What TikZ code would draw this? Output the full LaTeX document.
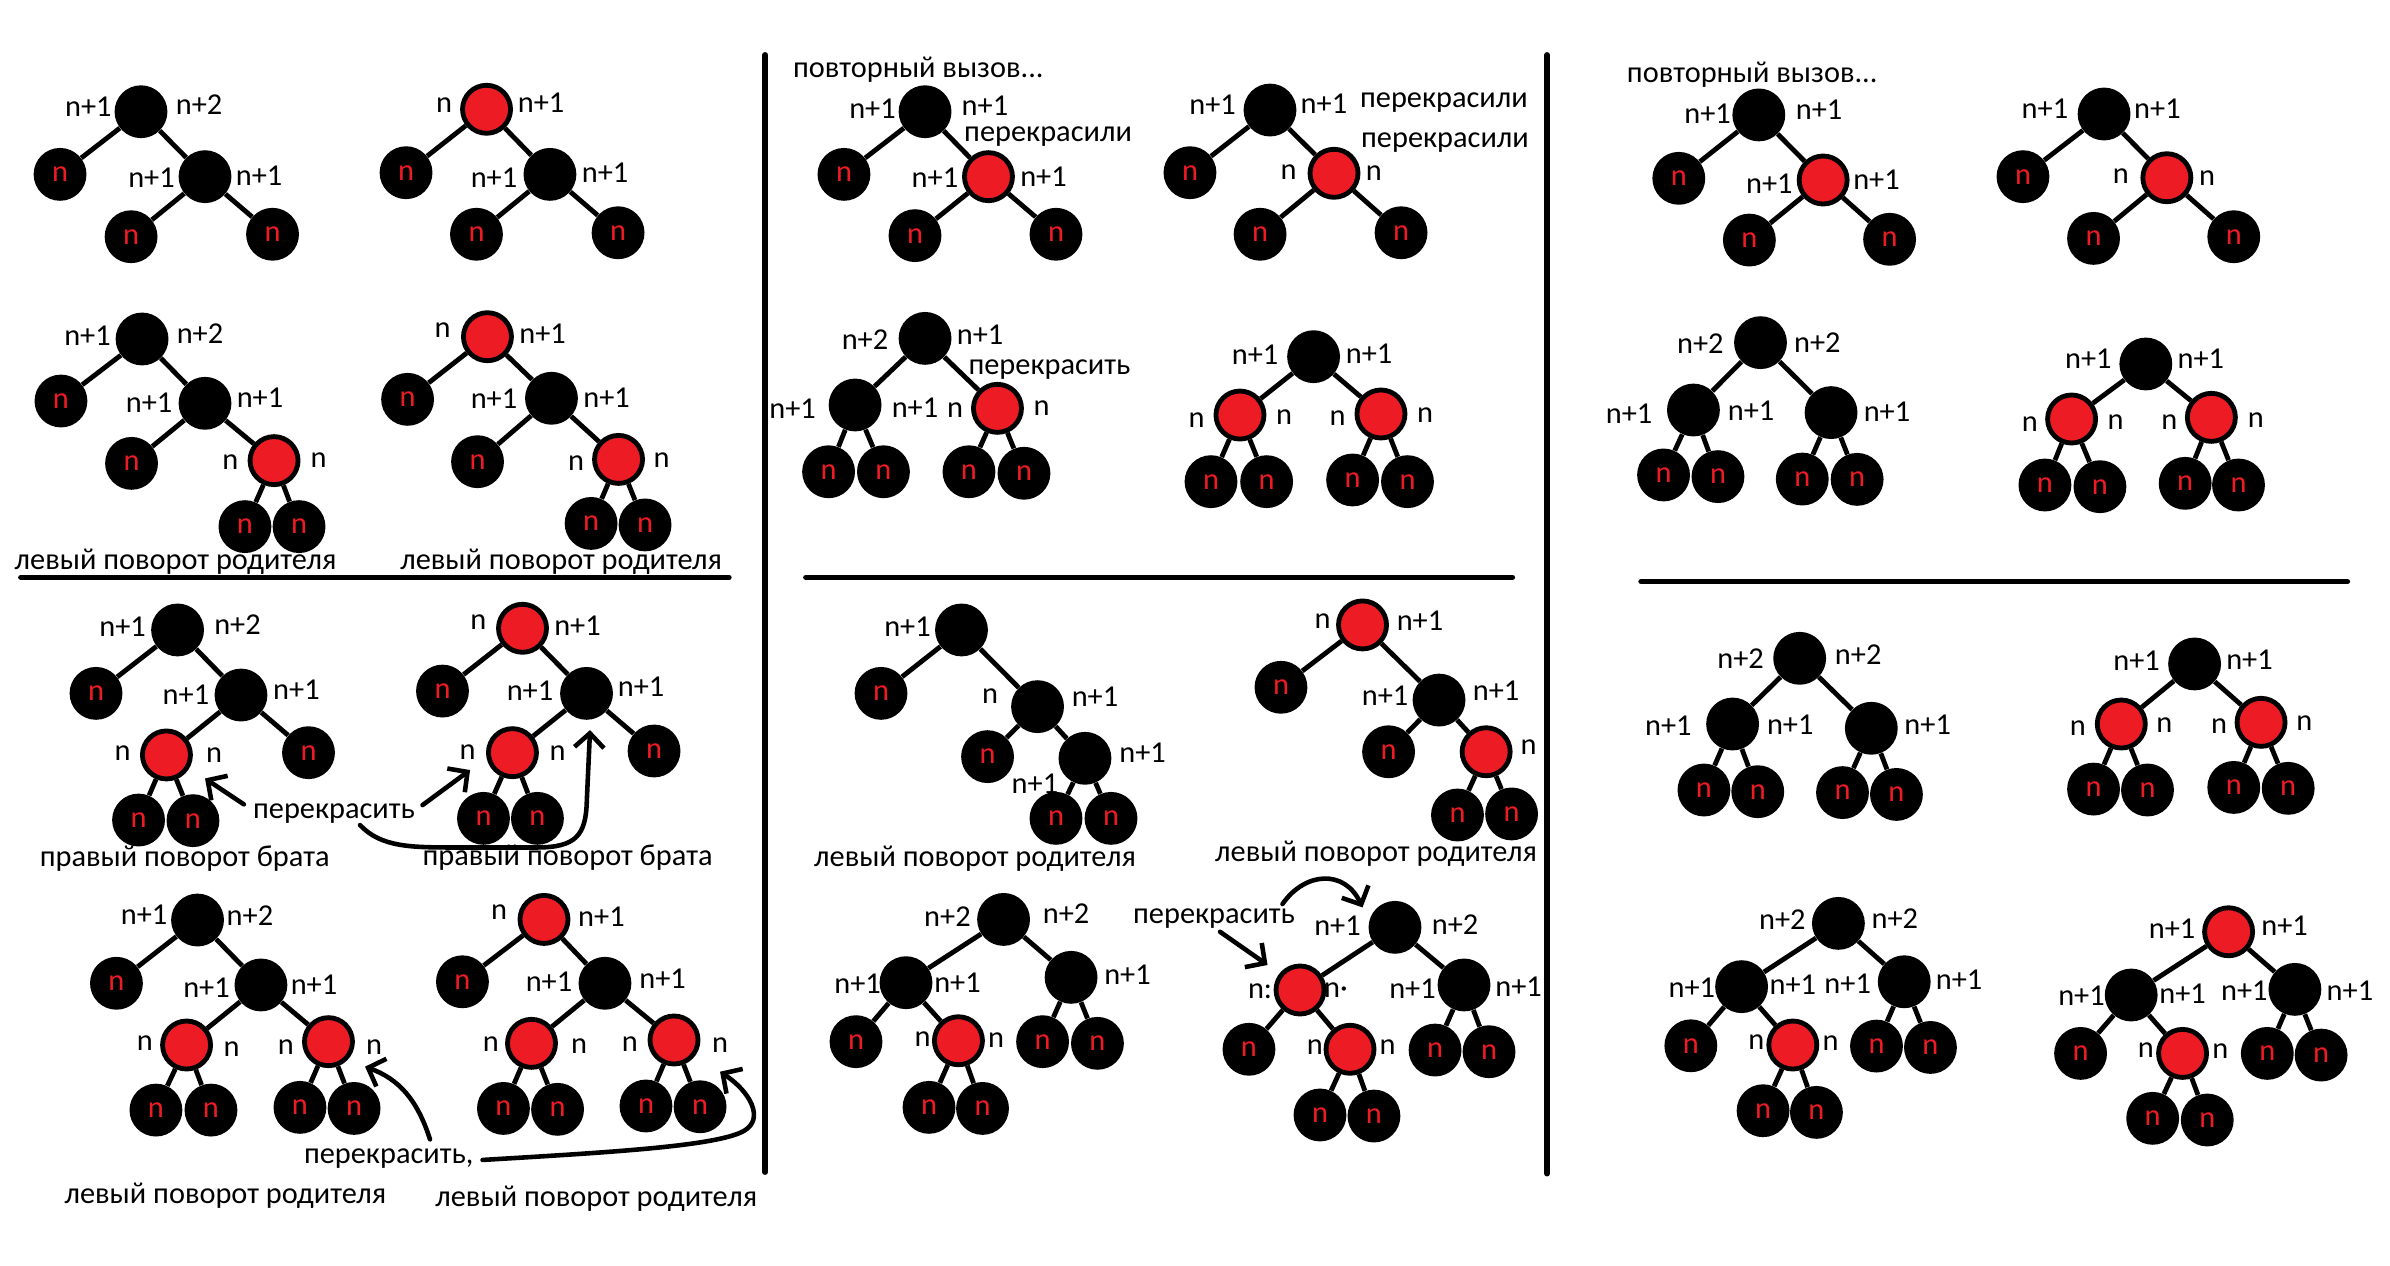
\documentclass[tikz,border=0pt]{standalone}
\usepackage{fontspec}
\setmainfont{Carlito}
\usetikzlibrary{arrows.meta}
\definecolor{pred}{HTML}{ED1C24}
\newcommand\bkN[3]{\node[blk] (#1) at (#2,#3) {};}
\newcommand\lfN[3]{\node[leaf] (#1) at (#2,#3) {n};}
\newcommand\rdN[3]{\node[rnode] (#1) at (#2,#3) {};}
\newcommand\lbN[4]{\node[lbl] (#1) at (#2,#3) {#4};}
\newcommand\egE[2]{\draw[edge] (#1) -- (#2);}
\begin{document}
\begin{tikzpicture}[x=0.3mm,y=-0.3mm,font=\fontsize{17}{20}\selectfont,
  blk/.style={circle,fill=black,inner sep=0pt,minimum size=10.4mm},
  leaf/.style={blk,text=pred},
  rnode/.style={circle,fill=pred,draw=black,line width=0.95mm,inner sep=0pt,minimum size=9.45mm},
  lbl/.style={inner sep=0pt,text=black},
  edge/.style={line width=0.95mm},
  sepline/.style={line width=1.1mm,line cap=round},
  arr/.style={line width=0.9mm,line cap=round,-{Straight Barb[length=2.8mm,width=5.8mm]}}]
\fill[white] (0,0) rectangle (1568,830);
\useasboundingbox (0,0) rectangle (1568,830);

% ---------- A1 ----------
\bkN{a1r}{92.5}{73.3}\lfN{a1l}{39.4}{114.4}\bkN{a1c}{134.5}{115.9}
\lfN{a1cl}{86}{155.3}\lfN{a1cr}{178.8}{153.7}
\lbN{a1t1}{58}{70}{n+1}\lbN{a1t2}{130.6}{68.4}{n+2}\lbN{a1t3}{99.4}{116.6}{n+1}\lbN{a1t4}{170}{115.5}{n+1}
\egE{a1r}{a1l}\egE{a1r}{a1c}\egE{a1c}{a1cl}\egE{a1c}{a1cr}
% ---------- A2 ----------
\rdN{a2r}{319.2}{71.7}\lfN{a2l}{266.4}{113.3}\bkN{a2c}{360.8}{114.4}
\lfN{a2cl}{312.6}{153.7}\lfN{a2cr}{405.5}{152.7}
\lbN{a2t1}{291.3}{68.9}{n}\lbN{a2t2}{355}{67.4}{n+1}\lbN{a2t3}{324.1}{116.3}{n+1}\lbN{a2t4}{397}{113}{n+1}
\egE{a2r}{a2l}\egE{a2r}{a2c}\egE{a2c}{a2cl}\egE{a2c}{a2cr}
% ---------- B1 ----------
\bkN{b1r}{93.2}{222.4}\lfN{b1l}{40}{263.1}\bkN{b1c}{134.5}{264.6}
\lfN{b1cl}{86.3}{304}\rdN{b1cr}{179.8}{302.2}
\lfN{b1x1}{160.7}{345.5}\lfN{b1x2}{196.2}{345.5}
\lbN{b1t1}{57.4}{220.2}{n+1}\lbN{b1t2}{131.2}{219.1}{n+2}\lbN{b1t3}{97.8}{264}{n+1}\lbN{b1t4}{170.6}{260.7}{n+1}
\lbN{b1t5}{151.2}{302.9}{n}\lbN{b1t6}{209}{301.8}{n}
\lbN{b1cap}{115.2}{368.5}{левый поворот родителя}
\egE{b1r}{b1l}\egE{b1r}{b1c}\egE{b1c}{b1cl}\egE{b1c}{b1cr}\egE{b1cr}{b1x1}\egE{b1cr}{b1x2}
% ---------- B2 ----------
\rdN{b2r}{319.8}{220.9}\lfN{b2l}{267.4}{262}\bkN{b2c}{361.8}{261.3}
\lfN{b2cl}{313.3}{302.9}\rdN{b2cr}{405.8}{301.4}
\lfN{b2x1}{387.8}{343.4}\lfN{b2x2}{423.2}{344.4}
\lbN{b2t1}{290.3}{216.5}{n}\lbN{b2t2}{356}{218.7}{n+1}\lbN{b2t3}{324.1}{261.3}{n+1}\lbN{b2t4}{398}{261}{n+1}
\lbN{b2t5}{377.9}{303.6}{n}\lbN{b2t6}{434}{302.2}{n}
\lbN{b2cap}{368.2}{368.5}{левый поворот родителя}
\egE{b2r}{b2l}\egE{b2r}{b2c}\egE{b2c}{b2cl}\egE{b2c}{b2cr}\egE{b2cr}{b2x1}\egE{b2cr}{b2x2}
\coordinate (h1a) at (13.7,378.8);\coordinate (h1b) at (478.2,378.8);
\draw[sepline] (h1a) -- (h1b);
% ---------- C1 ----------
\bkN{c1r}{116.5}{413.3}\lfN{c1l}{63}{454.9}\bkN{c1c}{158.1}{456}
\rdN{c1cl}{109.2}{495.3}\lfN{c1cr}{202.4}{493.8}
\lfN{c1x1}{90.9}{538}\lfN{c1x2}{126.6}{538.4}
\lbN{c1t1}{80.4}{411.2}{n+1}\lbN{c1t2}{155.8}{410}{n+2}\lbN{c1t3}{122}{456}{n+1}\lbN{c1t4}{194.5}{452.3}{n+1}
\lbN{c1t5}{80.4}{494.2}{n}\lbN{c1t6}{140.4}{495.3}{n}
\lbN{c1cap}{121.2}{563.1}{правый поворот брата}
\egE{c1r}{c1l}\egE{c1r}{c1c}\egE{c1c}{c1cl}\egE{c1c}{c1cr}\egE{c1cl}{c1x1}\egE{c1cl}{c1x2}
% ---------- C2 ----------
\rdN{c2r}{342.8}{412.2}\lfN{c2l}{290.3}{453.4}\bkN{c2c}{384.8}{454.9}
\rdN{c2cl}{336.2}{493.8}\lfN{c2cr}{429.1}{492.7}
\lfN{c2x1}{317.2}{536.9}\lfN{c2x2}{352.6}{536.9}
\lbN{c2t1}{313.9}{407.9}{n}\lbN{c2t2}{378.9}{410.7}{n+1}\lbN{c2t3}{347.7}{453.1}{n+1}\lbN{c2t4}{420.6}{450.5}{n+1}
\lbN{c2t5}{306.7}{493.2}{n}\lbN{c2t6}{365.8}{494.2}{n}
\lbN{c2cap}{372.4}{562.7}{правый поворот брата}
\egE{c2r}{c2l}\egE{c2r}{c2c}\egE{c2c}{c2cl}\egE{c2c}{c2cr}\egE{c2cl}{c2x1}\egE{c2cl}{c2x2}
\lbN{crec}{219.1}{533.6}{перекрасить}
\coordinate (ca1s) at (160,527.7);\coordinate (ca1e) at (134.5,510.7);
\draw[arr] (ca1s) -- (ca1e);
\coordinate (ca2s) at (277.2,528.2);\coordinate (ca2e) at (308.4,505.2);
\draw[arr] (ca2s) -- (ca2e);
\coordinate (ca3s) at (236.2,541.3);\coordinate (ca3e) at (387.1,479);
\draw[arr] (ca3s) .. controls (250,556) and (270,556) .. (300,556) -- (352,556) .. controls (378,556) and (384.5,548) .. (385,525) -- (ca3e);
% ---------- D1 ----------
\bkN{d1r}{129.6}{603.6}\lfN{d1l}{76.4}{645.1}\bkN{d1c}{171.2}{646.2}
\rdN{d1cl}{122.4}{685.6}\rdN{d1cr}{215.5}{683.4}
\lfN{d1x1}{102.3}{728.3}\lfN{d1x2}{138.4}{728.3}\lfN{d1x3}{196.8}{726.5}\lfN{d1x4}{232.3}{727.2}
\lbN{d1t1}{94.5}{600.3}{n+1}\lbN{d1t2}{164}{600.8}{n+2}\lbN{d1t3}{135.5}{647.8}{n+1}\lbN{d1t4}{206}{646.2}{n+1}
\lbN{d1t5}{95.1}{684.5}{n}\lbN{d1t6}{151.9}{688.2}{n}\lbN{d1t7}{187.6}{686.7}{n}\lbN{d1t8}{245.4}{686.7}{n}
\lbN{d1cap}{147.9}{784.7}{левый поворот родителя}
\egE{d1r}{d1l}\egE{d1r}{d1c}\egE{d1c}{d1cl}\egE{d1c}{d1cr}
\egE{d1cl}{d1x1}\egE{d1cl}{d1x2}\egE{d1cr}{d1x3}\egE{d1cr}{d1x4}
% ---------- D2 ----------
\rdN{d2r}{356.9}{603.2}\lfN{d2l}{303.4}{644.1}\bkN{d2c}{396.9}{645.1}
\rdN{d2cl}{348.7}{684.5}\rdN{d2cr}{442.2}{682.3}
\lfN{d2x1}{330.3}{727.2}\lfN{d2x2}{365.8}{727.8}\lfN{d2x3}{423.8}{725.6}\lfN{d2x4}{459.3}{726.1}
\lbN{d2t1}{327.4}{598.2}{n}\lbN{d2t2}{394.6}{601.4}{n+1}\lbN{d2t3}{360.2}{644.1}{n+1}\lbN{d2t4}{434.7}{641.9}{n+1}
\lbN{d2t5}{322.1}{685}{n}\lbN{d2t6}{379.9}{686.1}{n}\lbN{d2t7}{413.3}{685}{n}\lbN{d2t8}{472.4}{685.6}{n}
\lbN{d2cap}{391.2}{786.2}{левый поворот родителя}
\egE{d2r}{d2l}\egE{d2r}{d2c}\egE{d2c}{d2cl}\egE{d2c}{d2cr}
\egE{d2cl}{d2x1}\egE{d2cl}{d2x2}\egE{d2cr}{d2x3}\egE{d2cr}{d2x4}
\lbN{drec}{255}{760}{перекрасить,}
\coordinate (da1s) at (282.1,747.5);\coordinate (da1e) at (239.5,699.8);
\draw[arr] (da1s) .. controls (274,722) and (262,708) .. (da1e);
\coordinate (da2s) at (316.6,761);\coordinate (da2e) at (472.4,703.1);
\draw[arr] (da2s) .. controls (400,756) and (470,752) .. (488,742) .. controls (502,734) and (492,716) .. (da2e);
\coordinate (v1a) at (502,36);\coordinate (v1b) at (502,769);
\draw[sepline] (v1a) -- (v1b);
% ---------- E1 ----------
\lbN{erep}{602.5}{45.5}{повторный вызов...}
\bkN{e1r}{606.9}{73.3}\lfN{e1l}{553.7}{114.4}\rdN{e1c}{648.5}{115.9}
\lfN{e1cl}{600.3}{154.6}\lfN{e1cr}{692.8}{153.7}
\lbN{e1t1}{572.4}{71.1}{n+1}\lbN{e1t2}{646.2}{69.5}{n+1}\lbN{e1t3}{613.4}{116.6}{n+1}\lbN{e1t4}{684.6}{115.9}{n+1}
\lbN{e1rec}{687.6}{89.7}{перекрасили}
\egE{e1r}{e1l}\egE{e1r}{e1c}\egE{e1c}{e1cl}\egE{e1c}{e1cr}
% ---------- E2 ----------
\bkN{e2r}{833.2}{72.2}\lfN{e2l}{780.7}{113.3}\rdN{e2c}{875.2}{113.7}
\lfN{e2cl}{826.7}{153.7}\lfN{e2cr}{919.2}{152.7}
\lbN{e2t1}{795.5}{68.4}{n+1}\lbN{e2t2}{868.6}{67.8}{n+1}\lbN{e2t3}{845.4}{113}{n}\lbN{e2t4}{901.4}{113.7}{n}
\lbN{e2rec1}{947.3}{67.4}{перекрасили}\lbN{e2rec2}{948}{93.4}{перекрасили}
\egE{e2r}{e2l}\egE{e2r}{e2c}\egE{e2c}{e2cl}\egE{e2c}{e2cr}
% ---------- F1 ----------
\bkN{f1r}{606.9}{222}\bkN{f1a}{561}{265.7}\rdN{f1b}{654.4}{267.9}
\lfN{f1x1}{543.6}{309.5}\lfN{f1x2}{579.6}{309.5}\lfN{f1x3}{635.7}{309.5}\lfN{f1x4}{671.8}{310.5}
\lbN{f1t1}{567.5}{223.1}{n+2}\lbN{f1t2}{643}{219.5}{n+1}\lbN{f1t3}{520}{267.9}{n+1}\lbN{f1t4}{600.3}{267.2}{n+1}
\lbN{f1t5}{626.6}{269.4}{n}\lbN{f1t6}{683.3}{267.9}{n}
\lbN{f1rec}{688.5}{242.5}{перекрасить}
\egE{f1r}{f1a}\egE{f1r}{f1b}\egE{f1a}{f1x1}\egE{f1a}{f1x2}\egE{f1b}{f1x3}\egE{f1b}{f1x4}
% ---------- F2 ----------
\bkN{f2r}{861.8}{234}\rdN{f2a}{813.5}{272.3}\rdN{f2b}{906}{271.6}
\lfN{f2x1}{794.5}{316}\lfN{f2x2}{831}{316}\lfN{f2x3}{887.4}{314.9}\lfN{f2x4}{923.4}{316}
\lbN{f2t1}{823.4}{232.9}{n+1}\lbN{f2t2}{898.2}{231.8}{n+1}
\lbN{f2t3}{785}{275.6}{n}\lbN{f2t4}{842.4}{273.8}{n}\lbN{f2t5}{877.5}{274.5}{n}\lbN{f2t6}{934.9}{272.3}{n}
\egE{f2r}{f2a}\egE{f2r}{f2b}\egE{f2a}{f2x1}\egE{f2a}{f2x2}\egE{f2b}{f2x3}\egE{f2b}{f2x4}
\coordinate (h2a) at (528.7,378.8);\coordinate (h2b) at (992.2,378.8);
\draw[sepline] (h2a) -- (h2b);
% ---------- G1 ----------
\bkN{g1r}{630.8}{413.3}\lfN{g1l}{578}{454.9}\bkN{g1c}{680.7}{463.6}
\lfN{g1cl}{647.9}{496.4}\bkN{g1cr}{711.8}{497.5}
\lfN{g1x1}{692.8}{536.9}\lfN{g1x2}{728.9}{536.9}
\lbN{g1t1}{595.4}{411.2}{n+1}\lbN{g1t2}{649.5}{456.6}{n}\lbN{g1t3}{718.4}{457.1}{n+1}
\lbN{g1t4}{749.6}{493.8}{n+1}\lbN{g1t5}{679}{513.9}{n+1}
\lbN{g1cap}{639.7}{563.1}{левый поворот родителя}
\egE{g1r}{g1l}\egE{g1r}{g1c}\egE{g1c}{g1cl}\egE{g1c}{g1cr}\egE{g1cr}{g1x1}\egE{g1cr}{g1x2}
% ---------- G2 ----------
\rdN{g2r}{893.9}{410}\lfN{g2l}{840.4}{450.9}\bkN{g2c}{944.1}{459.3}
\lfN{g2cl}{911}{493.2}\rdN{g2cr}{975}{493.2}
\lfN{g2x1}{956.2}{534.7}\lfN{g2x2}{991.7}{534}
\lbN{g2t1}{867.7}{407.4}{n}\lbN{g2t2}{931.6}{407.4}{n+1}\lbN{g2t3}{908.7}{456.6}{n+1}
\lbN{g2t4}{981.5}{453.1}{n+1}\lbN{g2t5}{1002.8}{490.3}{n}
\lbN{g2cap}{902.8}{559.9}{левый поворот родителя}
\egE{g2r}{g2l}\egE{g2r}{g2c}\egE{g2c}{g2cl}\egE{g2c}{g2cr}\egE{g2cr}{g2x1}\egE{g2cr}{g2x2}
% ---------- H1 ----------
\bkN{h1r}{658.4}{603.2}\bkN{h1a}{594.4}{644.7}\bkN{h1b}{702.7}{641.2}
\lfN{h1al}{561.6}{683.4}\rdN{h1ar}{628.8}{682.8}
\lfN{h1b1}{684}{683.4}\lfN{h1b2}{720}{684.5}
\lfN{h1x1}{609.5}{726.5}\lfN{h1x2}{644.6}{727.2}
\lbN{h1t1}{621.6}{601.4}{n+2}\lbN{h1t2}{699.4}{599.2}{n+2}\lbN{h1t3}{562.6}{645.1}{n+1}
\lbN{h1t4}{628.2}{644.7}{n+1}\lbN{h1t5}{739.7}{639.7}{n+1}
\lbN{h1t6}{605.2}{681.9}{n}\lbN{h1t7}{653.5}{682.3}{n}
\egE{h1r}{h1a}\egE{h1r}{h1b}\egE{h1a}{h1al}\egE{h1a}{h1ar}\egE{h1b}{h1b1}\egE{h1b}{h1b2}
\egE{h1ar}{h1x1}\egE{h1ar}{h1x2}
% ---------- H2 ----------
\bkN{h2r}{915.2}{608.4}\rdN{h2a}{852.9}{649.5}\bkN{h2b}{960.5}{646.2}
\lfN{h2al}{819.4}{688.4}\rdN{h2ar}{885.7}{688.4}
\lfN{h2b1}{941.5}{688.9}\lfN{h2b2}{976.9}{690}
\lfN{h2x1}{866}{731.5}\lfN{h2x2}{901.4}{732.2}
\lbN{h2t1}{877.5}{607.5}{n+1}\lbN{h2t2}{954.6}{606.9}{n+2}
\lbN{h2t3}{826.7}{650.6}{n:}\lbN{h2t4}{876.5}{649.5}{n·}
\lbN{h2t5}{926.7}{648.4}{n+1}\lbN{h2t6}{996.3}{647.3}{n+1}
\lbN{h2t7}{862.7}{686.7}{n}\lbN{h2t8}{910.3}{686.7}{n}
\lbN{h2rec}{796.5}{602.5}{перекрасить}
\egE{h2r}{h2a}\egE{h2r}{h2b}\egE{h2a}{h2al}\egE{h2a}{h2ar}\egE{h2b}{h2b1}\egE{h2b}{h2b2}
\egE{h2ar}{h2x1}\egE{h2ar}{h2x2}
\coordinate (ha1s) at (841.4,593.1);\coordinate (ha1e) at (893.9,595.3);
\draw[arr] (ha1s) .. controls (856,572) and (882,570) .. (ha1e);
\coordinate (ha2s) at (800.4,611.3);\coordinate (ha2e) at (831.6,633.1);
\draw[arr] (ha2s) -- (ha2e);
\coordinate (v2a) at (1015,36);\coordinate (v2b) at (1015,770);
\draw[sepline] (v2a) -- (v2b);
% ---------- I1 ----------
\lbN{irep}{1149.6}{48.8}{повторный вызов...}
\bkN{i1r}{1153.9}{75.4}\lfN{i1l}{1101.4}{117}\rdN{i1c}{1196.1}{118.1}
\lfN{i1cl}{1147.7}{157.5}\lfN{i1cr}{1239.7}{157}
\lbN{i1t1}{1120.3}{74.3}{n+1}\lbN{i1t2}{1193.4}{72.2}{n+1}\lbN{i1t3}{1160.8}{120.3}{n+1}\lbN{i1t4}{1231.1}{118.1}{n+1}
\egE{i1r}{i1l}\egE{i1r}{i1c}\egE{i1c}{i1cl}\egE{i1c}{i1cr}
% ---------- I2 ----------
\bkN{i2r}{1380.4}{74.8}\lfN{i2l}{1327.2}{115.9}\rdN{i2c}{1421.6}{116.6}
\lfN{i2cl}{1373.5}{156.4}\lfN{i2cr}{1465.5}{155.3}
\lbN{i2t1}{1341.6}{71.1}{n+1}\lbN{i2t2}{1415.4}{71.1}{n+1}\lbN{i2t3}{1391.4}{115.5}{n}\lbN{i2t4}{1448}{117}{n}
\egE{i2r}{i2l}\egE{i2r}{i2c}\egE{i2c}{i2cl}\egE{i2c}{i2cr}
% ---------- J1 ----------
\bkN{j1r}{1155}{224.8}\bkN{j1a}{1111}{269}\bkN{j1b}{1201.3}{270.7}
\lfN{j1x1}{1091.4}{311.6}\lfN{j1x2}{1127.1}{312.7}\lfN{j1x3}{1182.4}{314.3}\lfN{j1x4}{1218.4}{314.5}
\lbN{j1t1}{1115.5}{225.3}{n+2}\lbN{j1t2}{1192.3}{224.6}{n+2}\lbN{j1t3}{1068.8}{271.2}{n+1}
\lbN{j1t4}{1148.8}{269.4}{n+1}\lbN{j1t5}{1238}{270.1}{n+1}
\egE{j1r}{j1a}\egE{j1r}{j1b}\egE{j1a}{j1x1}\egE{j1a}{j1x2}\egE{j1b}{j1x3}\egE{j1b}{j1x4}
% ---------- J2 ----------
\bkN{j2r}{1407.8}{238.8}\rdN{j2a}{1359.1}{274.9}\rdN{j2b}{1450.8}{273.8}
\lfN{j2x1}{1341.6}{318.2}\lfN{j2x2}{1377.7}{319.3}\lfN{j2x3}{1433.6}{317.1}\lfN{j2x4}{1468.6}{318.2}
\lbN{j2t1}{1370.1}{235.1}{n+1}\lbN{j2t2}{1443.9}{235.1}{n+1}
\lbN{j2t3}{1331.7}{278.2}{n}\lbN{j2t4}{1388}{276.7}{n}\lbN{j2t5}{1423.3}{276.7}{n}\lbN{j2t6}{1479.9}{275.6}{n}
\egE{j2r}{j2a}\egE{j2r}{j2b}\egE{j2a}{j2x1}\egE{j2a}{j2x2}\egE{j2b}{j2x3}\egE{j2b}{j2x4}
\coordinate (h3a) at (1076.7,381.6);\coordinate (h3b) at (1540,381.6);
\draw[sepline] (h3a) -- (h3b);
% ---------- K1 ----------
\bkN{k1r}{1180.7}{431.9}\bkN{k1a}{1136.7}{475}\bkN{k1b}{1227.7}{477.8}
\lfN{k1x1}{1117.9}{518.3}\lfN{k1x2}{1153.2}{519.4}\lfN{k1x3}{1208.8}{520}\lfN{k1x4}{1244.2}{521.2}
\lbN{k1t1}{1141.9}{431.9}{n+2}\lbN{k1t2}{1219.1}{429.7}{n+2}\lbN{k1t3}{1094.5}{476.3}{n+1}
\lbN{k1t4}{1174.5}{475.7}{n+1}\lbN{k1t5}{1264.7}{475.7}{n+1}
\egE{k1r}{k1a}\egE{k1r}{k1b}\egE{k1a}{k1x1}\egE{k1a}{k1x2}\egE{k1b}{k1x3}\egE{k1b}{k1x4}
% ---------- K2 ----------
\bkN{k2r}{1439.8}{435.6}\rdN{k2a}{1391.7}{475}\rdN{k2b}{1483.4}{473.9}
\lfN{k2x1}{1373.5}{517.7}\lfN{k2x2}{1408.9}{518.3}\lfN{k2x3}{1465.5}{516.6}\lfN{k2x4}{1501.2}{517.2}
\lbN{k2t1}{1401.7}{433.5}{n+1}\lbN{k2t2}{1475.8}{433}{n+1}
\lbN{k2t3}{1363.2}{477.8}{n}\lbN{k2t4}{1419.9}{475.7}{n}\lbN{k2t5}{1455.9}{476.3}{n}\lbN{k2t6}{1511.8}{474.6}{n}
\egE{k2r}{k2a}\egE{k2r}{k2b}\egE{k2a}{k2x1}\egE{k2a}{k2x2}\egE{k2b}{k2x3}\egE{k2b}{k2x4}
% ---------- L1 ----------
\bkN{l1r}{1206.1}{605.8}\bkN{l1a}{1142.6}{647.3}\bkN{l1b}{1249.3}{644.1}
\lfN{l1al}{1109.3}{686.1}\rdN{l1ar}{1176.2}{685.6}
\lfN{l1b1}{1231.1}{686.3}\lfN{l1b2}{1266.5}{687.2}
\lfN{l1x1}{1156.7}{728.7}\lfN{l1x2}{1191.7}{729.8}
\lbN{l1t1}{1169.3}{603.6}{n+2}\lbN{l1t2}{1243.1}{602.5}{n+2}\lbN{l1t3}{1110}{647.8}{n+1}
\lbN{l1t4}{1176.2}{646.2}{n+1}\lbN{l1t5}{1212.2}{645.6}{n+1}\lbN{l1t6}{1285.3}{642.5}{n+1}
\lbN{l1t7}{1152.2}{683.9}{n}\lbN{l1t8}{1200.9}{684.5}{n}
\egE{l1r}{l1a}\egE{l1r}{l1b}\egE{l1a}{l1al}\egE{l1a}{l1ar}\egE{l1b}{l1b1}\egE{l1b}{l1b2}
\egE{l1ar}{l1x1}\egE{l1ar}{l1x2}
% ---------- L2 ----------
\rdN{l2r}{1462.1}{611.3}\bkN{l2a}{1398.2}{652.8}\bkN{l2b}{1505.6}{649.1}
\lfN{l2al}{1365}{691.1}\rdN{l2ar}{1431.9}{691.1}
\lfN{l2b1}{1487.5}{691.1}\lfN{l2b2}{1522.8}{692.2}
\lfN{l2x1}{1412.3}{733.7}\lfN{l2x2}{1448.1}{734.8}
\lbN{l2t1}{1425}{609.1}{n+1}\lbN{l2t2}{1498.8}{607.5}{n+1}\lbN{l2t3}{1365.6}{653.5}{n+1}
\lbN{l2t4}{1431.9}{651.7}{n+1}\lbN{l2t5}{1472.4}{650}{n+1}\lbN{l2t6}{1541.7}{650}{n+1}
\lbN{l2t7}{1407.8}{688.9}{n}\lbN{l2t8}{1456.6}{689.3}{n}
\egE{l2r}{l2a}\egE{l2r}{l2b}\egE{l2a}{l2al}\egE{l2a}{l2ar}\egE{l2b}{l2b1}\egE{l2b}{l2b2}
\egE{l2ar}{l2x1}\egE{l2ar}{l2x2}
\end{tikzpicture}
\end{document}
